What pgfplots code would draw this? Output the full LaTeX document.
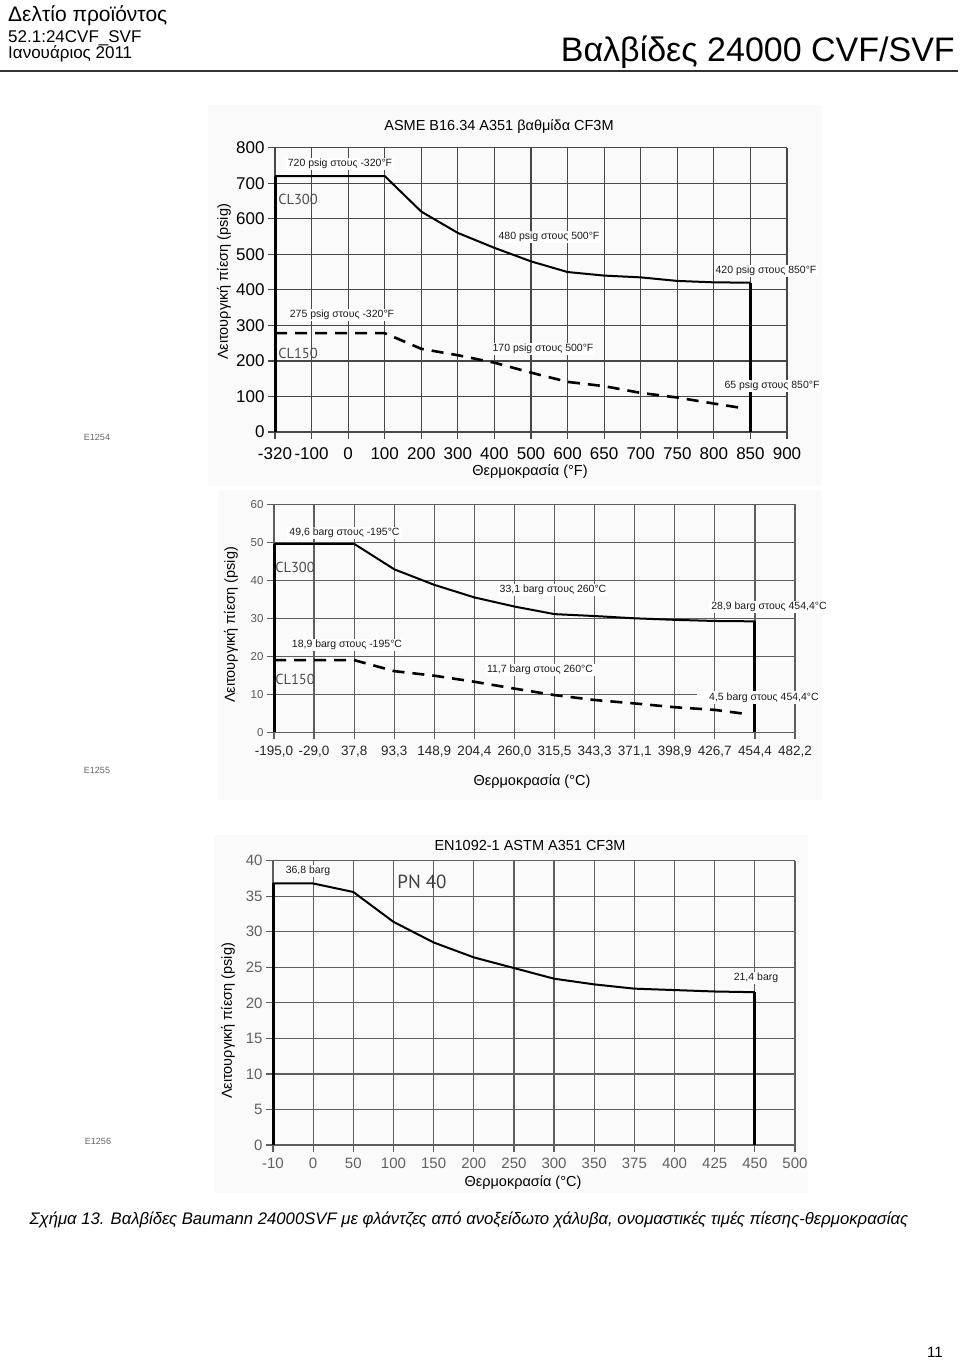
\documentclass[border=0pt]{standalone}
\usepackage{fontspec}
\setmainfont{Liberation Sans}
\newfontfamily\myr{PT Sans}
\usepackage{pgfplots}
\pgfplotsset{compat=1.18}
\definecolor{gridA}{HTML}{474747}
\definecolor{gridB}{HTML}{5E5E5E}
\definecolor{bgc}{HTML}{FAFAFA}
\newcommand{\fs}[1]{\fontsize{#1}{#1}\selectfont}
\pgfplotsset{
  base/.style={
    scale only axis, clip=false,
    axis lines=left, axis line style={-, draw=#1, line width=1.2pt},
    grid=major, major grid style={draw=#1, line width=1.2pt},
    tick align=outside, major tick length=7pt,
    tick style={draw=#1, line width=1.2pt},
    /pgf/number format/assume math mode=true,
    anchor=south west,
  },
  cl/.style={black, line width=2pt},
  clv/.style={black, line width=3pt},
  cld/.style={black, line width=2.6pt, dash pattern=on 12pt off 8pt},
}
\begin{document}
\begin{tikzpicture}
\begin{scope}[x=1pt,y=-1pt]
\useasboundingbox (0,0) rectangle (960,1361);
\fill[white] (0,0) rectangle (960,1361);
\fill[bgc] (208,105) rectangle (822,486);
\fill[bgc] (218,490) rectangle (822,800);
\fill[bgc] (214,835) rectangle (808,1193);
% header
\node[anchor=base west, inner sep=0, font=\fs{21}] at (8,21) {Δελτίο προϊόντος};
\node[anchor=base west, inner sep=0, font=\fs{17}] at (8,42) {52.1:24CVF\_SVF};
\node[anchor=base west, inner sep=0, font=\fs{17}] at (8,58) {Ιανουάριος 2011};
\node[anchor=base east, inner sep=0, font=\fs{34}] at (955,61) {Βαλβίδες 24000 CVF/SVF};
\draw[black!80, line width=2pt] (0,71) -- (958,71);
\end{scope}

% ---------- Chart 1 ----------
\begin{axis}[base=gridA, at={(275pt,-432pt)}, width=512pt, height=284.4pt,
  xmin=0, xmax=14, ymin=0, ymax=800,
  xtick={0,...,14},
  xticklabels={-320,-100,0,100,200,300,400,500,600,650,700,750,800,850,900},
  ytick={0,100,...,800},
  ticklabel style={font=\fs{17}, text=black},
  xticklabel style={yshift=-5pt},
]
\addplot[cl] coordinates {(0,720)(1,720)(2,720)(3,720)(4,620)(5,560)(6,518)(7,480)(8,450)(9,440)(10,435)(11,425)(12,421)(13,420)};
\addplot[clv] coordinates {(0,0)(0,720)};
\addplot[clv] coordinates {(13,420)(13,0)};
\addplot[cld] coordinates {(0,278)(1,278)(2,278)(3,278)(4,234)(5,216)(6,195)(7,167)(8,141)(9,129)(10,110)(11,97)(12,80)(12.8,67)};
\end{axis}

% ---------- Chart 2 ----------
\begin{axis}[base=gridB, at={(274pt,-732.3pt)}, width=521pt, height=228pt,
  xmin=0, xmax=13, ymin=0, ymax=60,
  xtick={0,...,13},
  xticklabels={{-195,0},{-29,0},{37,8},{93,3},{148,9},{204,4},{260,0},{315,5},{343,3},{371,1},{398,9},{426,7},{454,4},{482,2}},
  ytick={0,10,...,60},
  yticklabel style={font=\fs{11.5}, text=black!65},
  xticklabel style={font=\fs{13.5}, text=black!85, yshift=-3pt},
]
\addplot[cl] coordinates {(0,49.6)(1,49.6)(2,49.6)(3,42.9)(4,38.8)(5,35.5)(6,33.1)(7,31.1)(8,30.6)(9,30.0)(10,29.6)(11,29.3)(12,29.2)};
\addplot[clv] coordinates {(0,0)(0,49.6)};
\addplot[clv] coordinates {(12,29.2)(12,0)};
\addplot[cld] coordinates {(0,19.0)(1,19.0)(2,19.0)(3,16.1)(4,14.9)(5,13.3)(6,11.5)(7,9.8)(8,8.5)(9,7.6)(10,6.6)(11,5.9)(11.8,4.8)};
\end{axis}

% ---------- Chart 3 ----------
\begin{axis}[base=gridB, at={(273pt,-1145pt)}, width=522pt, height=284.3pt,
  xmin=0, xmax=13, ymin=0, ymax=40,
  xtick={0,...,13},
  xticklabels={-10,0,50,100,150,200,250,300,350,375,400,425,450,500},
  ytick={0,5,...,40},
  ticklabel style={font=\fs{15}, text=black!62},
  xticklabel style={yshift=-2pt},
]
\addplot[cl] coordinates {(0,36.8)(1,36.8)(2,35.6)(3,31.4)(4,28.5)(5,26.4)(6,24.9)(7,23.4)(8,22.6)(9,22.0)(10,21.8)(11,21.6)(12,21.5)};
\addplot[clv] coordinates {(0,0)(0,36.8)};
\addplot[clv] coordinates {(12,21.5)(12,0)};
\end{axis}

\begin{scope}[x=1pt,y=-1pt]
\tikzset{lab/.style={fill=white, inner xsep=2pt, inner ysep=1.5pt, font=\fs{10.5}, text=black!90},
         cls/.style={inner sep=0, font=\myr\fs{14.5}, text=black!70}}
% chart 1 annotations
\node[font=\fs{14.5}] at (499,127) {ASME B16.34 A351 βαθμίδα CF3M};
\node[lab] at (340,164) {720 psig στους -320°F};
\node[cls] at (298,199) {CL300};
\node[lab] at (549,237) {480 psig στους 500°F};
\node[lab] at (766,271) {420 psig στους 850°F};
\node[lab] at (342,315) {275 psig στους -320°F};
\node[cls] at (298,353) {CL150};
\node[lab] at (543,349) {170 psig στους 500°F};
\node[lab] at (772,386) {65 psig στους 850°F};
\node[font=\fs{14.5}] at (530,472) {Θερμοκρασία (°F)};
\node[rotate=90, font=\fs{14.5}] at (224,282) {Λειτουργική πίεση (psig)};
\node[font=\fs{9}, text=black!60] at (97,437) {E1254};
% chart 2 annotations
\fill[white] (697,691) rectangle (800,699);
\node[lab] at (344.5,533) {49,6 barg στους -195°C};
\node[cls] at (295,567) {CL300};
\node[lab] at (553,590) {33,1 barg στους 260°C};
\node[lab] at (769,607) {28,9 barg στους 454,4°C};
\node[lab] at (347,645) {18,9 barg στους -195°C};
\node[cls] at (295,679) {CL150};
\node[lab] at (540,670) {11,7 barg στους 260°C};
\node[lab] at (764,698) {4,5 barg στους 454,4°C};
\node[font=\fs{14.5}] at (532,782) {Θερμοκρασία (°C)};
\node[rotate=90, font=\fs{14.5}] at (231,625) {Λειτουργική πίεση (psig)};
\node[font=\fs{9}, text=black!60] at (97,770) {E1255};
% chart 3 annotations
\node[font=\fs{14.5}] at (530,845) {EN1092-1 ASTM A351 CF3M};
\node[lab] at (308,871) {36,8 barg};
\node[inner sep=0, font=\myr\fs{19}, text=black!75] at (422,882) {PN 40};
\node[lab] at (756,978) {21,4 barg};
\node[font=\fs{14.5}] at (523,1183) {Θερμοκρασία (°C)};
\node[rotate=90, font=\fs{14.5}] at (228,1021) {Λειτουργική πίεση (psig)};
\node[font=\fs{9}, text=black!60] at (98,1141) {E1256};
% caption and page number
\node[font=\itshape\fs{16.7}] at (469,1220) {Σχήμα 13. Βαλβίδες Baumann 24000SVF με φλάντζες από ανοξείδωτο χάλυβα, ονομαστικές τιμές πίεσης-θερμοκρασίας};
\node[anchor=base east, inner sep=0, font=\fs{15}] at (943,1357) {11};
\end{scope}
\end{tikzpicture}
\end{document}
